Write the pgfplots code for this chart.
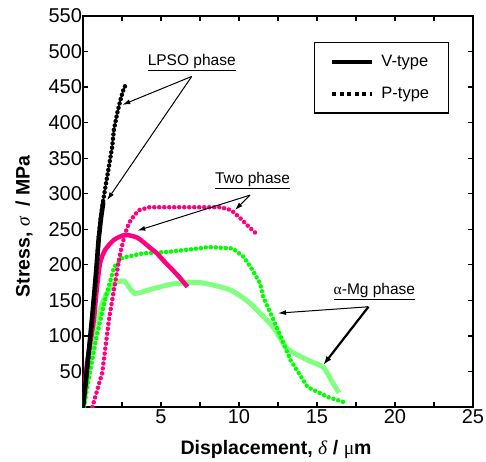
\documentclass[border=0pt]{standalone}
\usepackage{pgfplots}
\pgfplotsset{compat=1.18}
\usepackage{fontspec}
\setmainfont{Liberation Sans}
\newfontfamily\grk{Liberation Serif}
\usetikzlibrary{arrows.meta}
\definecolor{cpink}{RGB}{255,0,128}
\definecolor{cgreen}{RGB}{0,255,0}
\definecolor{clgreen}{RGB}{128,255,128}
\begin{document}
\begin{tikzpicture}
\begin{axis}[
  scale only axis, width=390bp, height=391bp,
  xmin=0, xmax=25, ymin=0, ymax=550,
  xtick={5,10,15,20,25}, minor xtick={2.5,7.5,12.5,17.5,22.5},
  ytick={50,100,...,550},
  axis line style={line width=1.4bp},
  major tick style={line width=1.2bp, black}, minor tick style={line width=1.2bp, black},
  major tick length=5bp, minor tick length=5bp,
  /pgf/number format/assume math mode=true,
  ticklabel style={font=\fontsize{20bp}{22bp}\selectfont},
  yticklabel style={xshift=2.5bp},
  xticklabel style={yshift=1bp},
  xlabel={\textbf{Displacement,} {\grk\itshape δ} \textbf{/} {\grk μ}\textbf{m}},
  ylabel={\textbf{Stress,} {\grk\itshape σ}\ \ \textbf{/ MPa}},
  every axis x label/.style={at={(axis description cs:0.495,-0.11)}, anchor=center, font=\fontsize{19.5bp}{22bp}\selectfont},
  every axis y label/.style={at={(axis description cs:-0.151,0.462)}, anchor=center, rotate=90, font=\fontsize{19.5bp}{22bp}\selectfont},
  legend image code/.code={\draw[#1] (0bp,0bp) -- (40bp,0bp);},
  legend style={at={(axis description cs:0.938,0.934)}, anchor=north east, draw=black, line width=1.3bp,
    font=\fontsize{16.5bp}{18bp}\selectfont, inner xsep=16bp, inner ysep=10bp, row sep=13bp,
    column sep=4bp, nodes={inner sep=3bp}},
  legend cell align=left,
]
\addlegendimage{black, line width=4bp}
\addlegendentry{V-type}
\addlegendimage{black, line width=4bp, dash pattern=on 4bp off 3.5bp}
\addlegendentry{P-type}

% alpha-Mg V-type (light green, solid)
\addplot[forget plot, clgreen, line width=5bp, smooth, tension=0.4] coordinates {
(0.05,0) (0.58,94) (1.23,146) (1.68,165) (2.0,174) (2.65,177) (3.3,160) (4.26,165) (5.74,173) (7.5,175)
(9.4,165) (10.6,148) (11.35,132) (12.2,112) (13.1,82) (14.4,66) (15.4,56) (15.9,38) (16.4,20)};
% alpha-Mg P-type (green, dotted)
\addplot[forget plot, cgreen, line width=4.5bp, line cap=round, dash pattern=on 0bp off 5bp] coordinates {
(0.05,0) (0.82,94) (1.46,155) (2.0,197) (2.52,210) (3.8,216) (5.34,218) (7,222) (8.1,225) (9.6,223)
(10.3,211) (10.8,195) (11.35,174) (11.55,155) (12.5,108) (13.3,66) (14.4,28) (15.7,14) (16.7,7)};
% Two phase V-type (pink, solid)
\addplot[forget plot, cpink, line width=4.5bp, smooth, tension=0.4] coordinates {
(0,5) (0.1,25) (0.26,62) (0.5,95) (0.69,122) (0.9,169) (1.1,203) (1.42,221) (1.98,235) (2.7,242)
(3.5,238) (4.3,224) (4.7,217) (5.2,205) (5.74,193) (6.2,182) (6.7,169)};
% Two phase P-type (pink, dotted)
\addplot[forget plot, cpink, line width=4.5bp, line cap=round, dash pattern=on 0bp off 5bp] coordinates {
(0.6,0) (1.23,48) (1.66,122) (1.98,165) (2.2,193) (2.39,217) (2.71,245) (2.95,259) (3.3,270) (3.6,277)
(4.26,281) (6,281) (8.8,281) (9.5,277) (10.06,266) (10.7,252) (11.2,242)};
% LPSO V-type (black, solid)
\addplot[forget plot, black, line width=4.5bp] coordinates {
(0,0) (0.2,40) (0.4,85) (0.6,130) (0.8,180) (1.0,235) (1.15,265) (1.3,288)};
% LPSO P-type (black, dotted)
\addplot[forget plot, black, line width=4.5bp, line cap=round, dash pattern=on 0bp off 4.5bp] coordinates {
(0,0) (0.3,60) (0.6,125) (0.85,185) (1.01,240) (1.15,270) (1.29,290) (1.44,310) (1.66,338) (1.87,366)
(1.98,390) (2.19,413) (2.4,432) (2.6,447) (2.73,453)};

% annotations
\node[font=\fontsize{15.5bp}{17bp}\selectfont] at (axis cs:6.97,484) {\underline{LPSO phase}};
\draw[-{Latex[length=8bp,width=5bp]}, line width=1bp] (axis cs:6.97,465) -- (axis cs:2.52,425);
\draw[-{Latex[length=8bp,width=5bp]}, line width=1bp] (axis cs:6.97,465) -- (axis cs:1.55,291);
\node[font=\fontsize{15.5bp}{17bp}\selectfont] at (axis cs:10.87,319) {\underline{Two phase}};
\draw[-{Latex[length=8bp,width=5bp]}, line width=1bp] (axis cs:10.7,298) -- (axis cs:3.48,248);
\draw[-{Latex[length=8bp,width=5bp]}, line width=1bp] (axis cs:10.7,298) -- (axis cs:9.74,277);
\node[font=\fontsize{15.5bp}{17bp}\selectfont] at (axis cs:18.68,162) {\underline{{\grk α}-Mg phase}};
\draw[-{Latex[length=8bp,width=5bp]}, line width=1bp] (axis cs:18.3,141) -- (axis cs:12.5,132);
\draw[-{Latex[length=9bp,width=6bp]}, line width=2.2bp] (axis cs:18.3,141) -- (axis cs:15.4,59);
\end{axis}
\pgfresetboundingbox
\useasboundingbox (current axis.south west) ++(-83bp,-55bp) rectangle ++(486bp,462bp);
\end{tikzpicture}
\end{document}
